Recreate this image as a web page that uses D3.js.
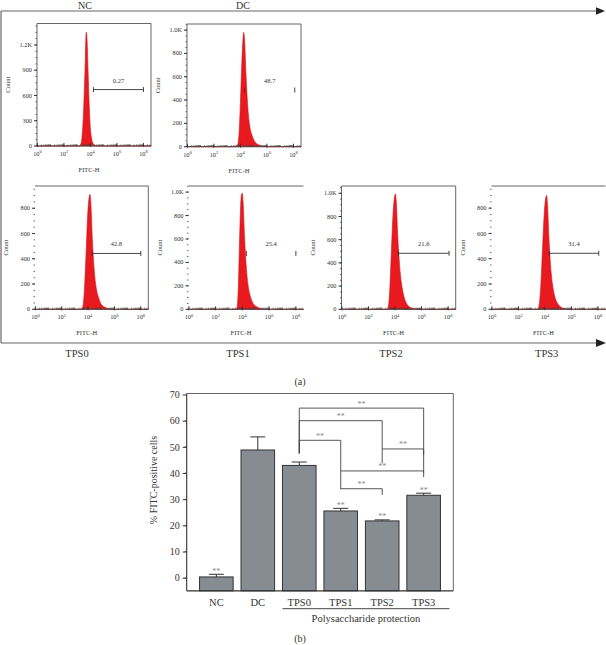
<!DOCTYPE html>
<html><head><meta charset="utf-8">
<script src="https://cdn.jsdelivr.net/npm/d3@7"></script>
<style>
body{margin:0;background:#fff}
svg{display:block}
text{font-family:"Liberation Serif","Times New Roman",serif;fill:#333}
</style>
</head><body>
<svg id="c" width="606" height="645"></svg>
<script>
// ---------------- DATA: flow cytometry panels ----------------
const panelNames = ["NC", "DC", "TPS0", "TPS1", "TPS2", "TPS3"];
const panelYMax = [1455, 1052, 976, 1052, 1063, 975];
const panelYTicks = [
  [0, 300, 600, 900, 1200],
  [0, 200, 400, 600, 800, 1000],
  [0, 200, 400, 600, 800],
  [0, 200, 400, 600, 800, 1000],
  [0, 200, 400, 600, 800, 1000],
  [0, 200, 400, 600, 800]
];
const panelYMinorStep = [75, 50, 50, 50, 50, 50];
const xTickExps = [0, 2, 4, 6, 8];
const gatePercents = ["0.27", "48.7", "42.8", "25.4", "21.6", "31.4"];
const gateStart = [4.23, 4.32, 4.30, 4.30, 4.26, 4.33];   // log10 FITC-H
const gateEnd = [8.0, 8.1, 8.0, 8.0, 8.07, 8.06];
const gateCount = [670, 486, 442, 477, 483, 443];

// histograms: [log10 FITC-H, count]
const histNC = [[0,0],[3.1,0],[3.25,15],[3.35,80],[3.45,300],[3.55,700],[3.62,1050],[3.68,1350],[3.74,1280],[3.82,900],[3.9,520],[3.98,250],[4.08,100],[4.2,30],[4.4,5],[4.6,0],[8.6,0]];
const histDC = [[0,0],[3.7,0],[3.8,20],[3.9,120],[4.0,380],[4.1,700],[4.18,900],[4.25,980],[4.32,900],[4.42,620],[4.55,350],[4.7,180],[4.9,90],[5.1,40],[5.4,15],[5.8,3],[6.2,0],[8.6,0]];
const histTPS0 = [[0,0],[3.5,0],[3.6,20],[3.72,150],[3.85,450],[3.97,750],[4.07,880],[4.14,910],[4.22,820],[4.32,560],[4.45,330],[4.6,180],[4.8,90],[5.0,40],[5.3,15],[5.6,3],[6.0,0],[8.6,0]];
const histTPS1 = [[0,0],[3.55,0],[3.62,30],[3.7,200],[3.78,550],[3.86,850],[3.93,980],[3.99,990],[4.06,900],[4.16,620],[4.28,380],[4.42,210],[4.6,110],[4.8,50],[5.1,20],[5.5,4],[5.9,0],[8.6,0]];
const histTPS2 = [[0,0],[3.4,0],[3.5,25],[3.6,160],[3.72,480],[3.84,800],[3.95,960],[4.03,995],[4.1,920],[4.2,650],[4.33,400],[4.48,230],[4.65,120],[4.85,55],[5.1,20],[5.5,4],[5.9,0],[8.6,0]];
const histTPS3 = [[0,0],[3.45,0],[3.55,25],[3.68,170],[3.82,480],[3.95,760],[4.06,880],[4.13,900],[4.2,820],[4.3,570],[4.43,340],[4.58,190],[4.76,95],[4.96,45],[5.25,15],[5.6,3],[6.0,0],[8.6,0]];
const histograms = [histNC, histDC, histTPS0, histTPS1, histTPS2, histTPS3];

// ---------------- DATA: bar chart ----------------
const barGroups = ["NC", "DC", "TPS0", "TPS1", "TPS2", "TPS3"];
const barMeans = [0.3, 48.8, 42.9, 25.5, 21.7, 31.5];
const barErrors = [1.0, 5.0, 1.3, 1.0, 0.4, 0.8];
const barStars = ["**", "", "", "**", "**", "**"];
const yTicksB = [0, 10, 20, 30, 40, 50, 60, 70];
// significance brackets: from, to, level, drop end at "from", drop end at "to"
const bracketFrom = ["TPS0", "TPS0", "TPS0", "TPS2", "TPS1", "TPS1"];
const bracketTo   = ["TPS3", "TPS2", "TPS1", "TPS3", "TPS3", "TPS2"];
const bracketLevel = [64.8, 60.0, 52.5, 49.2, 40.8, 34.0];
const bracketFromEnd = [47.5, 47.5, 47.5, 49.2, 40.8, 34.0];
const bracketToEnd = [40.1, 43.7, 33.8, 46.9, 38.4, 31.6];
const bracketLabel = ["**", "**", "**", "**", "**", "**"];

// ---------------- LAYOUT ----------------
const svg = d3.select("#c");
const panelLayout = [
  {x: 37,    y: 23.5, w: 114,   h: 122.5, left: true,  right: true},
  {x: 187,   y: 24,   w: 114,   h: 122.7, left: true,  right: true},
  {x: 35,    y: 186,  w: 113.3, h: 123.3, left: false, right: true},
  {x: 188.5, y: 186,  w: 115,   h: 123.3, left: false, right: false},
  {x: 341.5, y: 186,  w: 114.2, h: 123.3, left: true,  right: true},
  {x: 491.5, y: 186,  w: 114,   h: 123.3, left: false, right: false}
];
const gateLineShown = [true, false, true, false, true, true];
const titlePos = [[85, 8.5], [243, 8.5], [77, 357], [238, 357], [391, 357], [546.7, 357]];

// frame with arrows
const frame = svg.append("g").attr("stroke", "#666").attr("stroke-width", 1.2).attr("fill", "none");
frame.append("line").attr("x1", 1).attr("y1", 11).attr("x2", 598).attr("y2", 11);
frame.append("line").attr("x1", 1).attr("y1", 11).attr("x2", 1).attr("y2", 343);
frame.append("line").attr("x1", 1).attr("y1", 343).attr("x2", 598).attr("y2", 343);
svg.append("path").attr("d", "M596,7.3L605,11L596,14.7Z").attr("fill", "#222");
svg.append("path").attr("d", "M596,339L606,343L596,347Z").attr("fill", "#222");

panelNames.forEach((name, i) => {
  svg.append("text").attr("x", titlePos[i][0]).attr("y", titlePos[i][1])
    .attr("text-anchor", "middle").attr("font-size", i < 2 ? 10 : 10.5).text(name);
});
svg.append("text").attr("x", 300).attr("y", 385).attr("text-anchor", "middle")
  .attr("font-size", 10).text("(a)");

panelNames.forEach((name, i) => {
  const L = panelLayout[i];
  const g = svg.append("g").attr("transform", `translate(${L.x},${L.y})`);
  const x = d3.scaleLinear().domain([-0.03, 8.57]).range([0, L.w]);
  const y = d3.scaleLinear().domain([0, panelYMax[i]]).range([L.h, 0]);

  // histogram
  g.append("path").datum(histograms[i])
    .attr("d", d3.area().x(d => x(d[0])).y0(y(0)).y1(d => y(d[1])).curve(d3.curveMonotoneX))
    .attr("fill", "#e8191f").attr("stroke", "#d01418").attr("stroke-width", 0.6);

  // box lines
  const bx = g.append("g").attr("stroke", "#555").attr("stroke-width", 0.9);
  bx.append("line").attr("x1", 0).attr("x2", L.w).attr("y1", 0).attr("y2", 0);
  if (L.right) bx.append("line").attr("x1", L.w).attr("x2", L.w).attr("y1", 0).attr("y2", L.h);
  if (L.left) bx.append("line").attr("x1", 0).attr("x2", 0).attr("y1", 0).attr("y2", L.h);
  bx.append("line").attr("x1", 0).attr("x2", L.w).attr("y1", L.h).attr("y2", L.h).attr("stroke", "#444");

  // y axis ticks
  const yAx = g.append("g");
  const minors = d3.range(0, panelYMax[i], panelYMinorStep[i]);
  yAx.selectAll("line.mi").data(minors).join("line")
    .attr("x1", -1.5).attr("x2", 0).attr("y1", d => y(d)).attr("y2", d => y(d))
    .attr("stroke", "#444").attr("stroke-width", 0.8);
  yAx.selectAll("line.ma").data(panelYTicks[i]).join("line")
    .attr("x1", -3).attr("x2", 0).attr("y1", d => y(d)).attr("y2", d => y(d))
    .attr("stroke", "#333").attr("stroke-width", 1);
  yAx.selectAll("text").data(panelYTicks[i]).join("text")
    .attr("x", -5).attr("y", d => y(d)).attr("dy", "0.33em")
    .attr("text-anchor", "end").attr("font-size", 6.3)
    .text(d => d >= 1000 ? (d / 1000).toFixed(1) + "K" : d);

  // x axis ticks (log minor)
  const minorX = [];
  for (let e = 0; e < 9; e++) for (let k = 1; k < 10; k++) {
    const v = e + Math.log10(k);
    if (v <= 8.5) minorX.push(v);
  }
  g.selectAll("line.xm").data(minorX).join("line")
    .attr("x1", d => x(d)).attr("x2", d => x(d)).attr("y1", L.h).attr("y2", L.h - 1.6)
    .attr("stroke", "#444").attr("stroke-width", 0.7);
  g.selectAll("line.xM").data(xTickExps).join("line")
    .attr("x1", d => x(d)).attr("x2", d => x(d)).attr("y1", L.h + 1).attr("y2", L.h - 3)
    .attr("stroke", "#333").attr("stroke-width", 1);
  const xt = g.selectAll("text.xt").data(xTickExps).join("text")
    .attr("class", "xt").attr("x", d => x(d)).attr("y", L.h + 10)
    .attr("text-anchor", "middle").attr("font-size", 6.3);
  xt.append("tspan").text("10");
  xt.append("tspan").attr("dy", -2.6).attr("font-size", 4.5).text(d => d);

  // axis titles
  g.append("text").attr("x", L.w / 2 - 5).attr("y", L.h + 26)
    .attr("text-anchor", "middle").attr("font-size", 6.5).text("FITC-H");
  g.append("text").attr("transform", `translate(-27,${L.h / 2}) rotate(-90)`)
    .attr("text-anchor", "middle").attr("font-size", 6.5).text("Count");

  // gate
  const gy = y(gateCount[i]), gx1 = x(gateStart[i]), gx2 = x(gateEnd[i]);
  const gg = g.append("g").attr("stroke", "#333").attr("stroke-width", 0.9);
  if (gateLineShown[i]) gg.append("line").attr("x1", gx1).attr("x2", gx2).attr("y1", gy).attr("y2", gy);
  gg.append("line").attr("x1", gx1).attr("x2", gx1).attr("y1", gy - 2.5).attr("y2", gy + 2.5)
    .attr("stroke", gateLineShown[i] ? "#333" : "#7a1010");
  gg.append("line").attr("x1", gx2).attr("x2", gx2).attr("y1", gy - 2.5).attr("y2", gy + 2.5);
  g.append("text").attr("x", (gx1 + gx2) / 2).attr("y", gy - 7)
    .attr("text-anchor", "middle").attr("font-size", 6.5).text(gatePercents[i]);
});

// ---------------- BAR CHART ----------------
const bx0 = 186.7, bx1 = 453.3, byTop = 394.5, byBot = 590.8;
const xb = d3.scaleBand().domain(barGroups).range([bx0, bx1]).paddingInner(0.19).paddingOuter(0.31);
const yb = d3.scaleLinear().domain([-5, 70]).range([byBot, byTop]);
const gb = svg.append("g");

// bars
gb.selectAll("rect.bar").data(barGroups).join("rect")
  .attr("x", d => xb(d)).attr("width", xb.bandwidth())
  .attr("y", (d, i) => yb(barMeans[i])).attr("height", (d, i) => yb(-5) - yb(barMeans[i]))
  .attr("fill", "#878c92").attr("stroke", "#333").attr("stroke-width", 1);

// error bars
barGroups.forEach((d, i) => {
  const cx = xb(d) + xb.bandwidth() / 2;
  const top = yb(barMeans[i] + barErrors[i]);
  gb.append("line").attr("x1", cx).attr("x2", cx).attr("y1", yb(barMeans[i])).attr("y2", top)
    .attr("stroke", "#333").attr("stroke-width", 1);
  gb.append("line").attr("x1", cx - 7.5).attr("x2", cx + 7.5).attr("y1", top).attr("y2", top)
    .attr("stroke", "#333").attr("stroke-width", 1);
  if (barStars[i]) {
    gb.append("text").attr("x", cx).attr("y", top - 0.5).attr("text-anchor", "middle")
      .attr("font-size", 8).style("fill", "#888").text(barStars[i]);
  }
});

// box
gb.append("line").attr("x1", bx0).attr("x2", bx1).attr("y1", byTop - 1).attr("y2", byTop - 1)
  .attr("stroke", "#555").attr("stroke-width", 0.9);
gb.append("line").attr("x1", bx1).attr("x2", bx1).attr("y1", byTop - 1).attr("y2", byBot)
  .attr("stroke", "#555").attr("stroke-width", 0.9);
gb.append("line").attr("x1", bx0).attr("x2", bx1).attr("y1", byBot).attr("y2", byBot)
  .attr("stroke", "#333").attr("stroke-width", 1.2);

// y axis
const yAxis = gb.append("g").attr("transform", `translate(${bx0},0)`)
  .call(d3.axisLeft(yb).tickValues(yTicksB).tickSize(4).tickPadding(3));
yAxis.select(".domain").attr("d", `M0,${byTop - 1}V${byBot}`).attr("stroke", "#333").attr("stroke-width", 1.1);
yAxis.selectAll(".tick line").attr("stroke", "#333");
yAxis.selectAll(".tick text").attr("font-size", 10).attr("font-family", "Liberation Serif").style("fill", "#333");
gb.selectAll("line.ymin").data(d3.range(-5, 70, 10).map(v => v + 10).filter(v => v < 70).map(v => v - 5))
  .join("line").attr("x1", bx0 - 2).attr("x2", bx0).attr("y1", d => yb(d)).attr("y2", d => yb(d))
  .attr("stroke", "#333").attr("stroke-width", 0.8);

gb.append("text").attr("transform", `translate(156.7,480) rotate(-90)`)
  .attr("text-anchor", "middle").attr("font-size", 10).text("% FITC-positive cells");

// category labels
gb.selectAll("text.cat").data(barGroups).join("text")
  .attr("x", d => xb(d) + xb.bandwidth() / 2).attr("y", 605.5)
  .attr("text-anchor", "middle").attr("font-size", 10.5).text(d => d);
gb.append("line").attr("x1", xb("TPS0")).attr("x2", xb("TPS3") + xb.bandwidth() + 9)
  .attr("y1", 608.7).attr("y2", 608.7).attr("stroke", "#333").attr("stroke-width", 0.9);
gb.append("text").attr("x", 366).attr("y", 621.5).attr("text-anchor", "middle")
  .attr("font-size", 10.5).text("Polysaccharide protection");
gb.append("text").attr("x", 300).attr("y", 642).attr("text-anchor", "middle")
  .attr("font-size", 10).text("(b)");

// significance brackets
bracketFrom.forEach((f, i) => {
  const xa = xb(f) + xb.bandwidth() / 2;
  const xc = xb(bracketTo[i]) + xb.bandwidth() / 2;
  const ly = yb(bracketLevel[i]);
  gb.append("path")
    .attr("d", `M${xa},${yb(bracketFromEnd[i])}V${ly}H${xc}V${yb(bracketToEnd[i])}`)
    .attr("fill", "none").attr("stroke", "#444").attr("stroke-width", 0.9);
  gb.append("text").attr("x", (xa + xc) / 2).attr("y", ly - 1.5).attr("text-anchor", "middle")
    .attr("font-size", 8).style("fill", "#888").text(bracketLabel[i]);
});
</script>
</body></html>
